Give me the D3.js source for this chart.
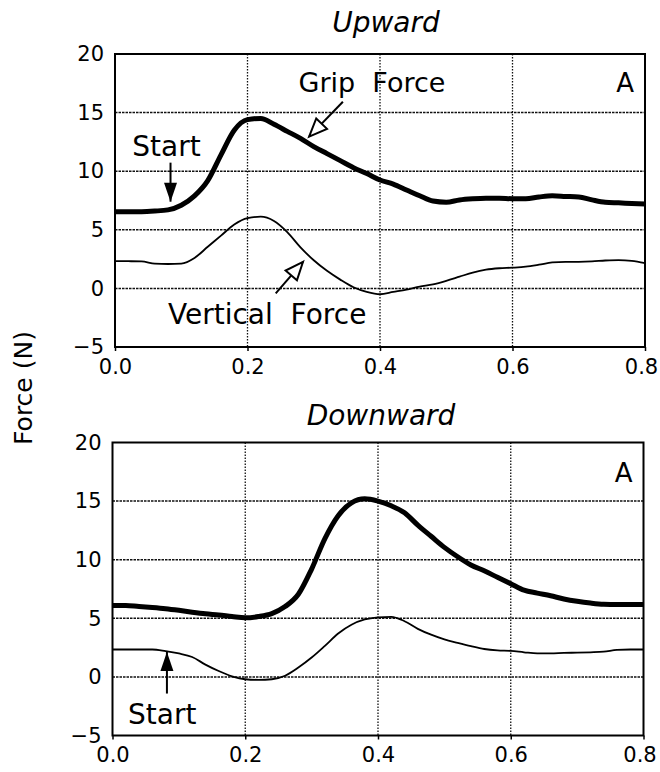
<!DOCTYPE html>
<html>
<head>
<meta charset="utf-8">
<script src="https://cdn.jsdelivr.net/npm/d3@7"></script>
<style>
  body { margin: 0; background: #fff; }
  svg text { font-family: "DejaVu Sans", sans-serif; fill: #000; }
</style>
</head>
<body>
<div id="chart"></div>
<script>
// Tiempo (s)
const time = [0, 0.02, 0.04, 0.06, 0.08, 0.10, 0.12, 0.14, 0.16, 0.18,
  0.20, 0.22, 0.24, 0.26, 0.28, 0.30, 0.32, 0.34, 0.36, 0.38,
  0.40, 0.42, 0.44, 0.46, 0.48, 0.50, 0.52, 0.54, 0.56, 0.58,
  0.60, 0.62, 0.64, 0.66, 0.68, 0.70, 0.72, 0.74, 0.76, 0.78, 0.80];

// Upward
const upGrip = [6.55, 6.55, 6.55, 6.6, 6.7, 7.1, 7.9, 9.2, 11.4, 13.5,
  14.4, 14.5, 14.0, 13.4, 12.8, 12.1, 11.5, 10.9, 10.3, 9.8,
  9.25, 8.9, 8.4, 7.9, 7.45, 7.35, 7.55, 7.65, 7.7, 7.7,
  7.65, 7.65, 7.8, 7.9, 7.85, 7.8, 7.55, 7.35, 7.3, 7.25, 7.2];
const upVertical = [2.33, 2.32, 2.3, 2.12, 2.08, 2.12, 2.6, 3.55, 4.5, 5.45,
  6.0, 6.12, 5.75, 4.8, 3.5, 2.4, 1.5, 0.75, 0.1, -0.3,
  -0.5, -0.3, -0.1, 0.15, 0.35, 0.65, 1.0, 1.35, 1.6, 1.72,
  1.77, 1.85, 2.02, 2.22, 2.27, 2.27, 2.3, 2.38, 2.42, 2.35, 2.15];

// Downward
const downGrip = [6.1, 6.1, 6.0, 5.92, 5.82, 5.68, 5.52, 5.38, 5.28, 5.15,
  5.04, 5.15, 5.4, 6.0, 7.05, 9.2, 11.8, 13.75, 14.85, 15.2,
  15.0, 14.6, 14.0, 12.95, 12.0, 11.05, 10.25, 9.55, 9.05, 8.5,
  7.95, 7.4, 7.15, 6.92, 6.65, 6.45, 6.3, 6.2, 6.18, 6.18, 6.18];
const downVertical = [2.34, 2.34, 2.34, 2.34, 2.2, 2.0, 1.7, 1.05, 0.5, 0.05,
  -0.2, -0.25, -0.2, 0.1, 0.8, 1.65, 2.65, 3.7, 4.45, 4.9,
  5.08, 5.13, 4.75, 4.1, 3.6, 3.2, 2.9, 2.62, 2.38, 2.26,
  2.22, 2.1, 2.0, 2.0, 2.05, 2.07, 2.1, 2.15, 2.3, 2.34, 2.34];

// Ejes
const xTicks = [0, 0.2, 0.4, 0.6, 0.8];
const yTicks = [-5, 0, 5, 10, 15, 20];
const gridX = [0.2, 0.4, 0.6];
const gridY = [0, 5, 10, 15];

const W = 660, H = 772;

const svg = d3.select("#chart").append("svg")
  .attr("width", W).attr("height", H);

svg.append("rect").attr("width", W).attr("height", H).attr("fill", "#fff");

// Flechas
const defs = svg.append("defs");
defs.append("marker")
  .attr("id", "solidHead")
  .attr("markerUnits", "userSpaceOnUse")
  .attr("viewBox", "-20 -10 22 20")
  .attr("refX", 0).attr("refY", 0)
  .attr("markerWidth", 22).attr("markerHeight", 20)
  .attr("orient", "auto")
  .append("path")
  .attr("d", "M0,0 L-19,-6.5 L-19,6.5 Z")
  .attr("fill", "#000");

defs.append("marker")
  .attr("id", "openHead")
  .attr("markerUnits", "userSpaceOnUse")
  .attr("viewBox", "-22 -11 25 22")
  .attr("refX", 0).attr("refY", 0)
  .attr("markerWidth", 25).attr("markerHeight", 22)
  .attr("orient", "auto")
  .append("path")
  .attr("d", "M0,0 L-18,-7.5 L-18,7.5 Z")
  .attr("fill", "#fff")
  .attr("stroke", "#000")
  .attr("stroke-width", 2)
  .attr("stroke-linejoin", "miter");

function drawPanel(p) {
  const x = d3.scaleLinear().domain([0, 0.8]).range([p.left, p.right]);
  const y = d3.scaleLinear().domain([-5, 20]).range([p.bottom, p.top]);
  const g = svg.append("g");

  // rejilla
  g.selectAll(".gx").data(gridX).enter().append("line")
    .attr("x1", d => x(d)).attr("x2", d => x(d))
    .attr("y1", p.top).attr("y2", p.bottom)
    .attr("stroke", "#111").attr("stroke-width", 1.3)
    .attr("stroke-dasharray", "1.6,1.4");
  g.selectAll(".gy").data(gridY).enter().append("line")
    .attr("x1", p.left).attr("x2", p.right)
    .attr("y1", d => y(d)).attr("y2", d => y(d))
    .attr("stroke", "#111").attr("stroke-width", 1.5)
    .attr("stroke-dasharray", "2.5,1");

  // ejes
  const xAxis = g.append("g")
    .attr("transform", "translate(0," + p.bottom + ")")
    .call(d3.axisBottom(x).tickValues(xTicks).tickFormat(d3.format(".1f")).tickSize(4).tickPadding(8));
  const yAxis = g.append("g")
    .attr("transform", "translate(" + p.left + ",0)")
    .call(d3.axisLeft(y).tickValues(yTicks).tickFormat(d3.format("d")).tickSize(0).tickPadding(11));
  [xAxis, yAxis].forEach(a => {
    a.select(".domain").remove();
    a.selectAll("line").attr("stroke", "#000").attr("stroke-width", 1.5);
    a.selectAll("text").attr("font-size", 21).attr("fill", "#000")
      .style("font-family", "'DejaVu Sans', sans-serif");
  });
  // la última etiqueta queda pegada al borde derecho
  xAxis.selectAll(".tick text").filter(d => d === 0.8).attr("dx", -4);

  // marco
  g.append("rect")
    .attr("x", p.left).attr("y", p.top)
    .attr("width", p.right - p.left).attr("height", p.bottom - p.top)
    .attr("fill", "none").attr("stroke", "#000").attr("stroke-width", 2);

  const line = d3.line()
    .x((d, i) => x(time[i]))
    .y(d => y(d))
    .curve(d3.curveMonotoneX);

  g.append("path").datum(p.vertical)
    .attr("d", line)
    .attr("fill", "none").attr("stroke", "#000").attr("stroke-width", 1.8);

  g.append("path").datum(p.grip)
    .attr("d", line)
    .attr("fill", "none").attr("stroke", "#000").attr("stroke-width", 5)
    .attr("stroke-linejoin", "round");

  // título
  svg.append("text")
    .attr("x", p.titleX).attr("y", p.titleY)
    .attr("text-anchor", "middle")
    .attr("font-size", 28).attr("font-style", "italic")
    .text(p.title);

  // etiqueta A
  g.append("text")
    .attr("x", x(0.77)).attr("y", y(p.aF))
    .attr("text-anchor", "middle").attr("font-size", 26)
    .text("A");

  // anotaciones
  p.labels.forEach(l => {
    g.append("text")
      .attr("x", x(l.t)).attr("y", y(l.f))
      .attr("font-size", l.size)
      .attr("xml:space", "preserve")
      .style("white-space", "pre")
      .text(l.text);
  });
  p.arrows.forEach(a => {
    g.append("line")
      .attr("x1", x(a.t0)).attr("y1", y(a.f0))
      .attr("x2", x(a.t1)).attr("y2", y(a.f1))
      .attr("stroke", "#000").attr("stroke-width", 2)
      .attr("marker-end", "url(#" + a.head + ")");
  });
}

drawPanel({
  left: 115, right: 645, top: 54, bottom: 347,
  title: "Upward", titleX: 386, titleY: 32,
  grip: upGrip, vertical: upVertical, aF: 16.76,
  labels: [
    { text: "Grip  Force", t: 0.277, f: 16.79, size: 27 },
    { text: "Start", t: 0.026, f: 11.3, size: 28 },
    { text: "Vertical  Force", t: 0.08, f: -3.0, size: 28 }
  ],
  arrows: [
    { t0: 0.344, f0: 15.93, t1: 0.293, f1: 12.95, head: "openHead" },
    { t0: 0.0838, f0: 10.73, t1: 0.0838, f1: 7.4, head: "solidHead" },
    { t0: 0.2426, f0: -0.43, t1: 0.2838, f1: 2.27, head: "openHead" }
  ]
});

drawPanel({
  left: 112.5, right: 643.5, top: 442.5, bottom: 735.5,
  title: "Downward", titleX: 381, titleY: 425,
  grip: downGrip, vertical: downVertical, aF: 16.63,
  labels: [
    { text: "Start", t: 0.0234, f: -3.98, size: 28 }
  ],
  arrows: [
    { t0: 0.082, f0: -1.42, t1: 0.082, f1: 2.13, head: "solidHead" }
  ]
});

// Título eje Y
svg.append("text")
  .attr("transform", "translate(32,388) rotate(-90)")
  .attr("text-anchor", "middle")
  .attr("font-size", 25)
  .text("Force (N)");
</script>
</body>
</html>
